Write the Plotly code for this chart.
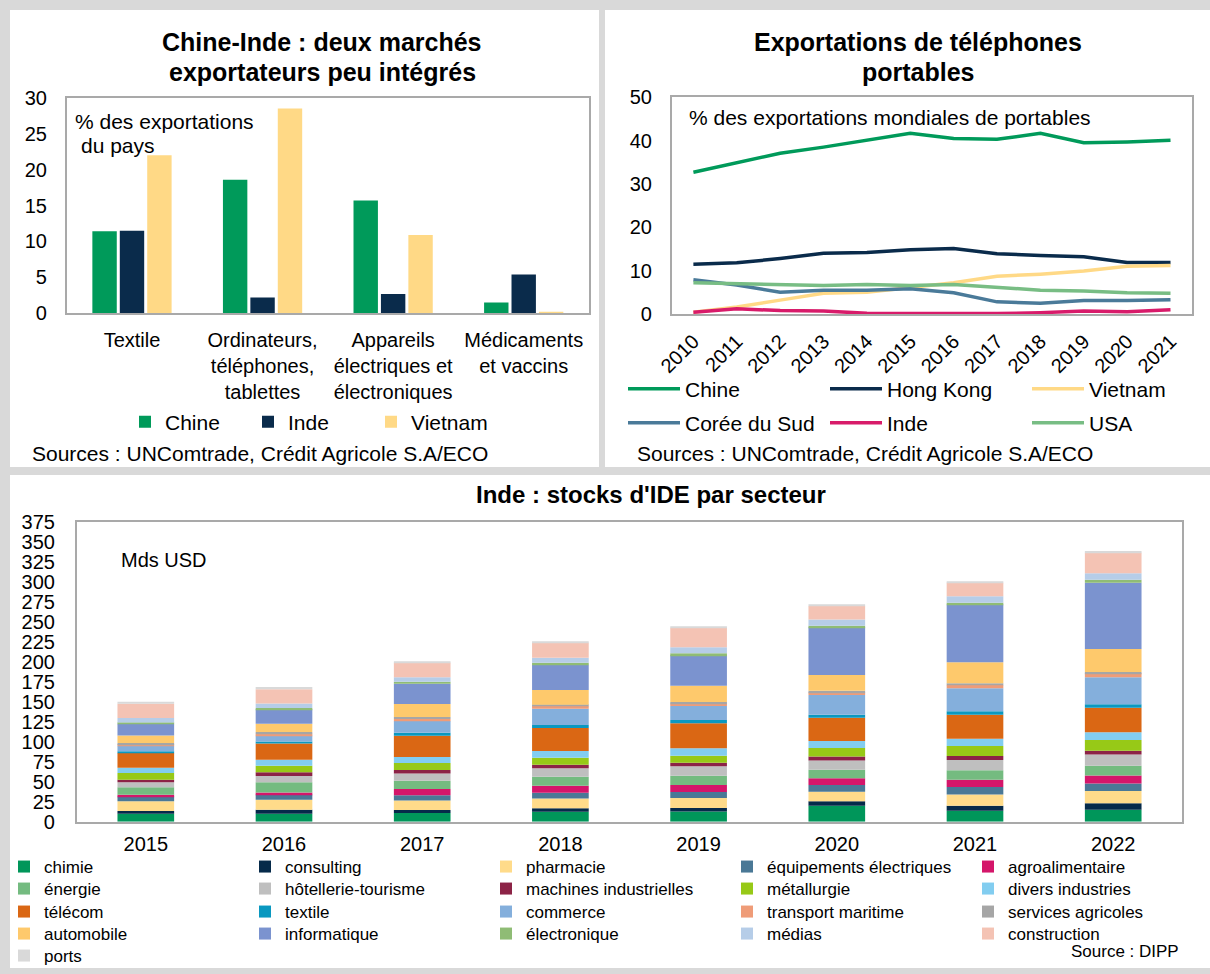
import numpy as np
import plotly.graph_objects as go

W, H = 1210, 974
FONT = "Liberation Sans, Arial, sans-serif"

# ---------- Chine-Inde : part des exportations du pays par produit (%)
produits = ["Textile", "Ordinateurs,<br>téléphones,<br>tablettes",
            "Appareils<br>électriques et<br>électroniques", "Médicaments<br>et vaccins"]
part_chine = [11.4, 18.6, 15.7, 1.5]
part_inde = [11.5, 2.2, 2.7, 5.4]
part_vietnam = [22.0, 28.5, 10.9, 0.2]

# ---------- Exportations de téléphones portables (% des exportations mondiales)
annees_tel = [str(a) for a in range(2010, 2022)]
tel_chine = [32.7, 34.8, 37.1, 38.5, 40.0, 41.7, 40.5, 40.3, 41.7, 39.5, 39.7, 40.1]
tel_hongkong = [11.5, 11.8, 12.8, 14.0, 14.2, 14.8, 15.1, 13.9, 13.5, 13.2, 11.9, 11.9]
tel_vietnam = [0.4, 1.6, 3.2, 4.8, 5.0, 6.2, 7.2, 8.7, 9.2, 9.9, 11.0, 11.2]
tel_coree = [7.9, 6.7, 5.0, 5.5, 5.5, 5.8, 4.9, 2.8, 2.5, 3.1, 3.1, 3.3]
tel_inde = [0.4, 1.2, 0.8, 0.7, 0.15, 0.1, 0.1, 0.1, 0.3, 0.7, 0.5, 1.0]
tel_usa = [7.2, 7.0, 6.8, 6.6, 6.8, 6.6, 6.8, 6.2, 5.5, 5.3, 4.9, 4.8]

# ---------- Inde : stocks d'IDE par secteur (Mds USD)
annees_ide = ["2015", "2016", "2017", "2018", "2019", "2020", "2021", "2022"]
secteurs = ["chimie", "consulting", "pharmacie", "équipements électriques", "agroalimentaire",
            "énergie", "hôtellerie-tourisme", "machines industrielles", "métallurgie", "divers industries",
            "télécom", "textile", "commerce", "transport maritime", "services agricoles",
            "automobile", "informatique", "électronique", "médias", "construction",
            "ports"]
ide_chimie = [10.0, 10.0, 10.9, 12.5, 12.9, 20.0, 13.8, 15.0]
ide_consulting = [3.4, 5.0, 3.7, 4.2, 4.2, 5.5, 6.2, 8.0]
ide_pharmacie = [12.1, 12.6, 12.1, 12.5, 12.5, 12.1, 14.2, 15.4]
ide_equipements = [6.2, 6.6, 6.3, 7.1, 7.6, 8.3, 9.2, 9.6]
ide_agro = [2.1, 2.5, 7.9, 8.8, 8.7, 8.4, 9.2, 10.0]
ide_energie = [9.2, 12.6, 10.5, 11.3, 11.7, 10.8, 11.7, 12.1]
ide_hotellerie = [6.3, 7.9, 9.1, 10.4, 11.7, 11.7, 12.9, 14.2]
ide_machines = [3.3, 4.6, 4.2, 4.6, 4.6, 5.0, 5.1, 4.6]
ide_metallurgie = [8.4, 8.3, 8.8, 8.8, 8.8, 10.5, 12.5, 13.4]
ide_divers = [6.6, 7.6, 7.5, 8.3, 9.2, 8.7, 9.2, 9.6]
ide_telecom = [18.4, 20.4, 26.7, 28.8, 31.3, 29.3, 30.0, 30.9]
ide_textile = [2.1, 2.5, 3.8, 3.8, 4.1, 3.7, 4.2, 4.2]
ide_commerce = [6.7, 7.5, 14.6, 20.4, 17.6, 24.7, 28.8, 33.8]
ide_transport = [1.7, 2.1, 2.5, 3.4, 3.3, 3.3, 4.2, 5.0]
ide_services_agr = [2.0, 2.1, 2.5, 1.7, 1.7, 2.1, 2.1, 1.7]
ide_automobile = [9.6, 10.5, 16.3, 18.3, 20.5, 19.6, 26.3, 28.8]
ide_informatique = [14.7, 17.9, 25.5, 31.8, 38.0, 59.7, 72.6, 83.1]
ide_electronique = [1.6, 1.7, 2.5, 2.5, 2.5, 2.1, 2.1, 3.7]
ide_medias = [5.5, 5.8, 5.4, 6.2, 7.5, 7.9, 8.0, 8.0]
ide_construction = [17.9, 17.6, 18.4, 18.8, 24.6, 16.7, 17.1, 25.9]
ide_ports = [2.5, 2.9, 1.6, 1.3, 1.3, 1.3, 1.2, 2.1]

series_ide = [ide_chimie, ide_consulting, ide_pharmacie, ide_equipements, ide_agro,
              ide_energie, ide_hotellerie, ide_machines, ide_metallurgie, ide_divers,
              ide_telecom, ide_textile, ide_commerce, ide_transport, ide_services_agr,
              ide_automobile, ide_informatique, ide_electronique, ide_medias, ide_construction,
              ide_ports]
couleurs_ide = ["#00965a", "#062a4a", "#ffdb8a", "#4a7896", "#d4166a",
                "#74bb80", "#bfbfbf", "#8c2346", "#97c917", "#82cdf0",
                "#da6714", "#0a98c0", "#84afdc", "#ef9c78", "#a6a6a6",
                "#fec96c", "#7b93cf", "#8fbc75", "#b6cde8", "#f4c3b4",
                "#d9d9d9"]

VERT = "#009a5a"
MARINE = "#0a2b4b"
JAUNE = "#ffd986"


def px(x):
    return x / W


def py(y):
    return 1 - y / H


fig = go.Figure()

# --- top-left grouped bars
for nom, vals, col in [("Chine", part_chine, VERT), ("Inde", part_inde, MARINE),
                       ("Vietnam", part_vietnam, JAUNE)]:
    fig.add_trace(go.Bar(x=produits, y=vals, name=nom, marker=dict(color=col, line_width=0),
                         xaxis="x", yaxis="y", legend="legend"))

# --- top-right lines
lignes = [("Chine", tel_chine, VERT, "legend2"), ("Hong Kong", tel_hongkong, MARINE, "legend2"),
          ("Vietnam", tel_vietnam, JAUNE, "legend2"), ("Corée du Sud", tel_coree, "#4a7a99", "legend3"),
          ("Inde", tel_inde, "#d81b6a", "legend3"), ("USA", tel_usa, "#78bd84", "legend3")]
for nom, vals, col, lg in lignes:
    fig.add_trace(go.Scatter(x=annees_tel, y=vals, name=nom, mode="lines",
                             line=dict(color=col, width=3.5), xaxis="x2", yaxis="y2", legend=lg))

# --- bottom stacked bars (stack built from cumulative sums)
base = np.zeros(len(annees_ide))
for i, (nom, vals, col) in enumerate(zip(secteurs, series_ide, couleurs_ide)):
    vals = np.array(vals, dtype=float)
    lg = "legend" + str(4 + i // 5)
    fig.add_trace(go.Bar(x=annees_ide, y=vals, base=base.copy(), name=nom, offsetgroup="ide",
                         width=0.41, marker=dict(color=col, line_width=0),
                         xaxis="x3", yaxis="y3", legend=lg))
    base = base + vals

# --- white panels on grey background
panels = [(10, 10, 599, 467), (605, 10, 1210, 467), (10, 475, 1210, 968)]
shapes = [dict(type="rect", xref="paper", yref="paper", x0=px(a), x1=px(c), y0=py(d), y1=py(b),
               fillcolor="white", line_width=0, layer="below") for a, b, c, d in panels]

tick_font = dict(family=FONT, size=20, color="black")
axis_common = dict(showgrid=False, zeroline=False, showline=True, mirror=True,
                   linecolor="#a9a9a9", linewidth=1.5, ticks="", tickfont=tick_font, fixedrange=True)


def ann(x, y, text, size, bold=False, xanchor="left"):
    return dict(x=px(x), y=py(y), xref="paper", yref="paper", text=("<b>%s</b>" % text) if bold else text,
                showarrow=False, xanchor=xanchor, yanchor="middle",
                font=dict(family=FONT, size=size, color="black"))


annotations = [
    ann(322, 42, "Chine-Inde : deux marchés", 25, True, "center"),
    ann(322, 72, "exportateurs peu intégrés", 25, True, "center"),
    ann(73, 121, "% des exportations", 21),
    ann(79, 145, "du pays", 21),
    ann(30, 453, "Sources : UNComtrade, Crédit Agricole S.A/ECO", 21),
    ann(918, 42, "Exportations de téléphones", 25, True, "center"),
    ann(918, 72, "portables", 25, True, "center"),
    ann(687, 118, "% des exportations mondiales de portables", 21),
    ann(635, 453, "Sources : UNComtrade, Crédit Agricole S.A/ECO", 21),
    ann(651, 494, "Inde : stocks d'IDE par secteur", 24, True, "center"),
    ann(119, 560, "Mds USD", 20),
    ann(1181, 951, "Source : DIPP", 17, xanchor="right"),
]

legend_common = dict(orientation="h", xanchor="left", yanchor="middle", bgcolor="rgba(0,0,0,0)",
                     borderwidth=0, traceorder="normal", itemclick=False, itemdoubleclick=False)
layout_legends = dict(
    legend=dict(legend_common, x=px(167 - 42), y=py(422), entrywidth=78,
                font=dict(family=FONT, size=21, color="black")),
    legend2=dict(legend_common, x=px(687 - 64), y=py(389), entrywidth=135, itemwidth=52,
                 font=dict(family=FONT, size=21, color="black")),
    legend3=dict(legend_common, x=px(687 - 64), y=py(423), entrywidth=135, itemwidth=52,
                 font=dict(family=FONT, size=21, color="black")),
)
for r, yrow in enumerate([867, 889, 912, 934, 956]):
    layout_legends["legend" + str(4 + r)] = dict(legend_common, x=px(46 - 42), y=py(yrow), entrywidth=196,
                                                 font=dict(family=FONT, size=17, color="black"))

fig.update_layout(
    width=W, height=H, margin=dict(l=0, r=0, t=0, b=0, autoexpand=False),
    paper_bgcolor="#d9d9d9", plot_bgcolor="white",
    barmode="group", bargap=0.37, bargroupgap=0.11,
    showlegend=True, shapes=shapes, annotations=annotations,
    font=dict(family=FONT, color="black"),
    xaxis=dict(axis_common, domain=[px(66.7), px(589)], anchor="y", range=[-0.5, 3.5],
               ticklabelstandoff=8),
    yaxis=dict(axis_common, domain=[py(313.3), py(97.7)], anchor="x", range=[0, 30], dtick=5,
               ticklabelstandoff=14),
    xaxis2=dict(axis_common, domain=[px(671.7), px(1192.2)], anchor="y2", range=[-0.5, 11.5],
                tickangle=-45, ticklabelstandoff=6),
    yaxis2=dict(axis_common, domain=[py(314), py(97.3)], anchor="x2", range=[0, 50], dtick=10,
                ticklabelstandoff=14),
    xaxis3=dict(axis_common, domain=[px(76.7), px(1182.3)], anchor="y3", range=[-0.5, 7.5],
                ticklabelstandoff=4),
    yaxis3=dict(axis_common, domain=[py(821.7), py(522.3)], anchor="x3", range=[0, 375], dtick=25,
                ticklabelstandoff=16),
    **layout_legends,
)

fig.write_html("out.html")
